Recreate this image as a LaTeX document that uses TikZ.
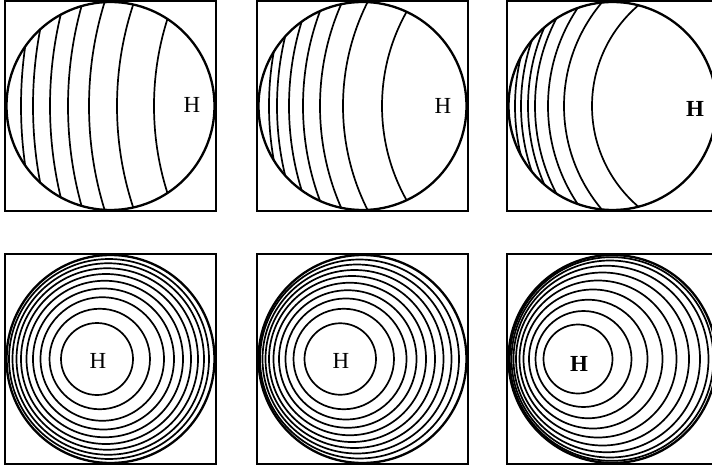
\documentclass[tikz,border=0pt]{standalone}
\usepackage{fontspec}
\setmainfont{Liberation Serif}
\begin{document}
\begin{tikzpicture}[x=1pt,y=-1pt,
  frame/.style={line width=1.7pt},
  rim/.style={line width=2.3pt},
  contour/.style={line width=1.7pt},
  hlabel/.style={font=\fontsize{23}{23}\selectfont, inner sep=0pt},
  hbold/.style={font=\fontsize{23}{23}\selectfont\bfseries, inner sep=0pt}]
\clip (0,0) rectangle (712,468);
\fill[white] (0,0) rectangle (712,468);
% ---------- top row: arcs ----------
\foreach \cx/\D/\mids in {110.5/330/{-89.5,-77.5,-60.5,-42.5,-21.5,6.5,43.5},
                          362.5/212/{-93.5,-85.5,-73.5,-59.5,-42.5,-19.5,19.5},
                          612.5/112/{-97.5,-91.5,-84.5,-77.5,-64.5,-48.5,-20.5}}{
  \begin{scope}[shift={(\cx,106)}]
    \begin{scope}
      \clip (0,0) circle[radius=104];
      \foreach \m in \mids {\draw[contour] (\D,0) circle[radius={\D-(\m)}];}
    \end{scope}
    \draw[rim] (0,0) circle[radius=104];
    \draw[frame] (-105.3,-105.3) rectangle (105.3,105.3);
  \end{scope}
}
% ---------- bottom row: nested circles ----------
\foreach \cx/\pairs in {110.5/{-49.5/22.5,-61/39.5,-70/53.5,-77.5/63.5,-84/72.5,-89.5/80.5,-94/87.5,-98/93.5,-101.5/98.5},
                        362.5/{-58/13.5,-69/31.5,-77/44,-83.5/54,-89/63.5,-93.5/72.5,-97/81,-100/89,-102.5/96.5},
                        612.5/{-69/0,-77/19,-83.5/35,-89/50,-93/64,-96.5/76.5,-99/87.5,-101/96,-102.7/101}}{
  \begin{scope}[shift={(\cx,359)}]
    \foreach \l/\r in \pairs {\draw[contour] ({(\l+\r)/2},0) circle[radius={(\r-\l)/2}];}
    \draw[rim] (0,0) circle[radius=104];
    \draw[frame] (-105.3,-105.3) rectangle (105.3,105.3);
  \end{scope}
}
% ---------- labels ----------
\node[hlabel] (h1) at (192,104.5) {H};
\node[hlabel] (h2) at (443,105.5) {H};
\node[hbold]  (h3) at (695,109) {H};
\node[hlabel] (h4) at (98,360.5) {H};
\node[hlabel] (h5) at (341,360.5) {H};
\node[hbold]  (h6) at (579,364) {H};
\end{tikzpicture}
\end{document}
